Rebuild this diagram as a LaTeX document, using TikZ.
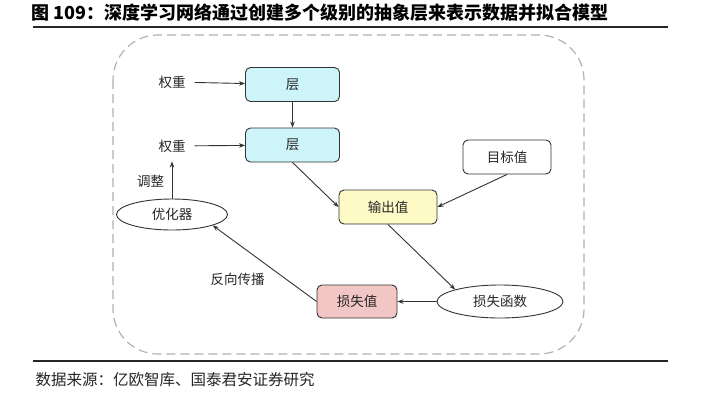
\documentclass[tikz,border=0pt]{standalone}
\usepackage{fontspec}
\usepackage{tikz}
\usetikzlibrary{shapes.geometric,arrows.meta}
\newfontfamily\cjk{Noto Sans CJK SC}
\definecolor{layerfill}{HTML}{CDF4F8}
\definecolor{outfill}{HTML}{FDFAC6}
\definecolor{lossfill}{HTML}{F1C6C4}
\definecolor{edgegray}{HTML}{333333}

\begin{document}
\begin{tikzpicture}[x=1pt,y=-1pt,
    every node/.style={font=\cjk\fontsize{13.5}{16}\selectfont, text=black!85},
    box/.style={draw=edgegray, line width=0.9pt, rounded corners=5pt,
                minimum width=94pt, minimum height=34pt, inner sep=2pt},
    oval/.style={ellipse, draw=edgegray, line width=0.9pt, inner sep=0pt},
    word/.style={inner sep=9pt},
    link/.style={draw=edgegray, line width=0.9pt, -{Stealth[length=6pt,width=4.5pt]}}]
    \useasboundingbox (0,0) rectangle (718,405);
    \fill[white] (0,0) rectangle (718,405);
    % heading and rules
    \node[anchor=west, font=\cjk\bfseries\fontsize{18}{20}\selectfont, text=black] (title) at (28,13)
        {图 109：深度学习网络通过创建多个级别的抽象层来表示数据并拟合模型};
    \draw[line width=1.5pt, black!85] (33,27) -- (668,27);
    \draw[line width=1.5pt, black!85] (33,361) -- (668,361);
    \node[anchor=west, font=\cjk\fontsize{15.5}{18}\selectfont, text=black!85] (source) at (32,380)
        {数据来源：亿欧智库、国泰君安证券研究};
    % frame
    \draw[black!30, line width=1.2pt, dash pattern=on 9pt off 5pt, rounded corners=45pt]
        (113,35) rectangle (584,354);
    % nodes
    \node[box, fill=layerfill] (layer1) at (292.5,84.5) {层};
    \node[box, fill=layerfill] (layer2) at (292.5,145) {层};
    \node[word] (weight1) at (172,82) {权重};
    \node[word] (weight2) at (172,146) {权重};
    \node[oval, minimum width=111pt, minimum height=31pt] (optim) at (172,214.5) {优化器};
    \node[box, fill=outfill, minimum width=98pt] (output) at (388,207) {输出值};
    \node[box, fill=white, minimum width=88pt] (target) at (507,157) {目标值};
    \node[oval, minimum width=126pt, minimum height=33pt] (lossfn) at (500,301.5) {损失函数};
    \node[box, fill=lossfill, minimum width=80pt, minimum height=33pt] (lossval) at (357,301.5) {损失值};
    % connectors
    \draw[link] (weight1) -- (layer1);
    \draw[link] (weight2) -- (layer2);
    \draw[link] (layer1) -- (layer2);
    \draw[link] (optim) -- (weight2) node[pos=0.45, left=4pt] {调整};
    \draw[link] (layer2.south) -- (output.west);
    \draw[link] (target.south) -- (output.east);
    \draw[link] (output.south) -- (lossfn.north west);
    \draw[link] (lossfn) -- (lossval);
    \draw[link] (lossval.west) -- (optim.-15)
        node[pos=0.38, anchor=north east, xshift=-12pt, inner sep=0pt] {反向传播};
\end{tikzpicture}
\end{document}
